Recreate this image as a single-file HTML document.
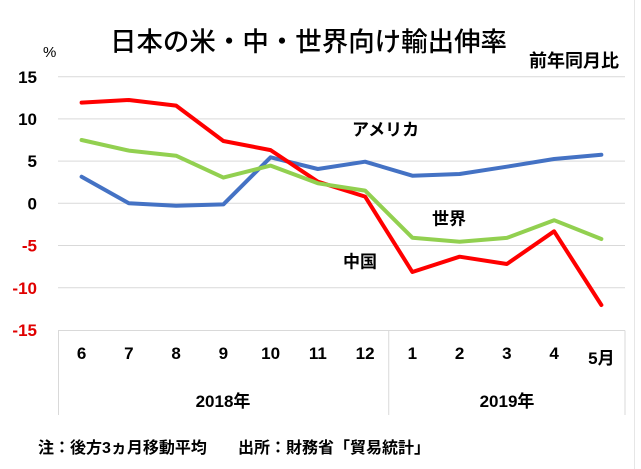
<!DOCTYPE html>
<html>
<head>
<meta charset="utf-8">
<style>
html,body{margin:0;padding:0;background:#fff;}
svg{display:block;}
text{font-family:"Liberation Sans","Noto Sans CJK JP",sans-serif;fill:#000;}
</style>
</head>
<body>
<svg width="641" height="469" viewBox="0 0 641 469" xmlns="http://www.w3.org/2000/svg">
<rect x="0" y="0" width="641" height="469" fill="#fff"/>
<line x1="634.5" y1="0" x2="634.5" y2="469" stroke="#e6e6e6" stroke-width="1"/>

<!-- title -->
<text x="110" y="51" font-size="26.5" font-weight="500" textLength="397" lengthAdjust="spacingAndGlyphs">日本の米・中・世界向け輸出伸率</text>
<text x="529" y="67" font-size="18" font-weight="bold">前年同月比</text>
<text x="43" y="57" font-size="15">%</text>

<!-- gridlines -->
<g stroke="#d9d9d9" stroke-width="1">
<line x1="58" y1="76.7" x2="625" y2="76.7"/>
<line x1="58" y1="118.9" x2="625" y2="118.9"/>
<line x1="58" y1="161.1" x2="625" y2="161.1"/>
<line x1="58" y1="203.3" x2="625" y2="203.3"/>
<line x1="58" y1="245.5" x2="625" y2="245.5"/>
<line x1="58" y1="287.8" x2="625" y2="287.8"/>
<line x1="58" y1="330.5" x2="625" y2="330.5"/>
<line x1="58.5" y1="330.5" x2="58.5" y2="415"/>
<line x1="388.75" y1="330.5" x2="388.75" y2="415"/>
<line x1="625" y1="330.5" x2="625" y2="415"/>
</g>

<!-- y labels -->
<g font-size="17" font-weight="bold" text-anchor="end">
<text x="37" y="82.8">15</text>
<text x="37" y="125">10</text>
<text x="37" y="167.2">5</text>
<text x="37" y="209.4">0</text>
<text x="37" y="251.6" style="fill:#e00000">-5</text>
<text x="37" y="293.9" style="fill:#e00000">-10</text>
<text x="37" y="336.1" style="fill:#e00000">-15</text>
</g>

<!-- x labels -->
<g font-size="17" font-weight="bold" text-anchor="middle">
<text x="81.6" y="359">6</text>
<text x="128.85" y="359">7</text>
<text x="176.1" y="359">8</text>
<text x="223.35" y="359">9</text>
<text x="270.6" y="359">10</text>
<text x="317.85" y="359">11</text>
<text x="365.1" y="359">12</text>
<text x="412.35" y="359">1</text>
<text x="459.6" y="359">2</text>
<text x="506.85" y="359">3</text>
<text x="554.1" y="359">4</text>
<text x="601.35" y="364">5月</text>
<text x="223" y="407">2018年</text>
<text x="507" y="407">2019年</text>
</g>

<!-- series -->
<g fill="none" stroke-width="4" stroke-linejoin="round" stroke-linecap="round">
<polyline stroke="#4472C4" points="81.6,176.7 128.85,203.3 176.1,205.7 223.35,204.4 270.6,157.3 317.85,169.0 365.1,161.7 412.35,175.7 459.6,174.0 506.85,166.7 554.1,159.0 601.35,154.7"/>
<polyline stroke="#FF0000" points="81.6,102.6 128.85,100.0 176.1,105.6 223.35,141.0 270.6,150.1 317.85,181.7 365.1,196.6 412.35,272.0 459.6,256.7 506.85,264.0 554.1,231.3 601.35,305.0"/>
<polyline stroke="#92D050" points="81.6,140.0 128.85,150.6 176.1,155.7 223.35,177.6 270.6,165.6 317.85,183.3 365.1,190.6 412.35,237.7 459.6,241.7 506.85,237.9 554.1,220.2 601.35,239.0"/>
</g>

<!-- series labels -->
<g font-size="17" font-weight="bold">
<text x="352" y="135.5">アメリカ</text>
<text x="432" y="224.5">世界</text>
<text x="343" y="267.5">中国</text>
</g>

<!-- footnote -->
<g font-size="16" font-weight="bold">
<text x="38" y="453">注：後方3ヵ月移動平均</text>
<text x="238" y="453">出所：財務省「貿易統計」</text>
</g>
</svg>
</body>
</html>
